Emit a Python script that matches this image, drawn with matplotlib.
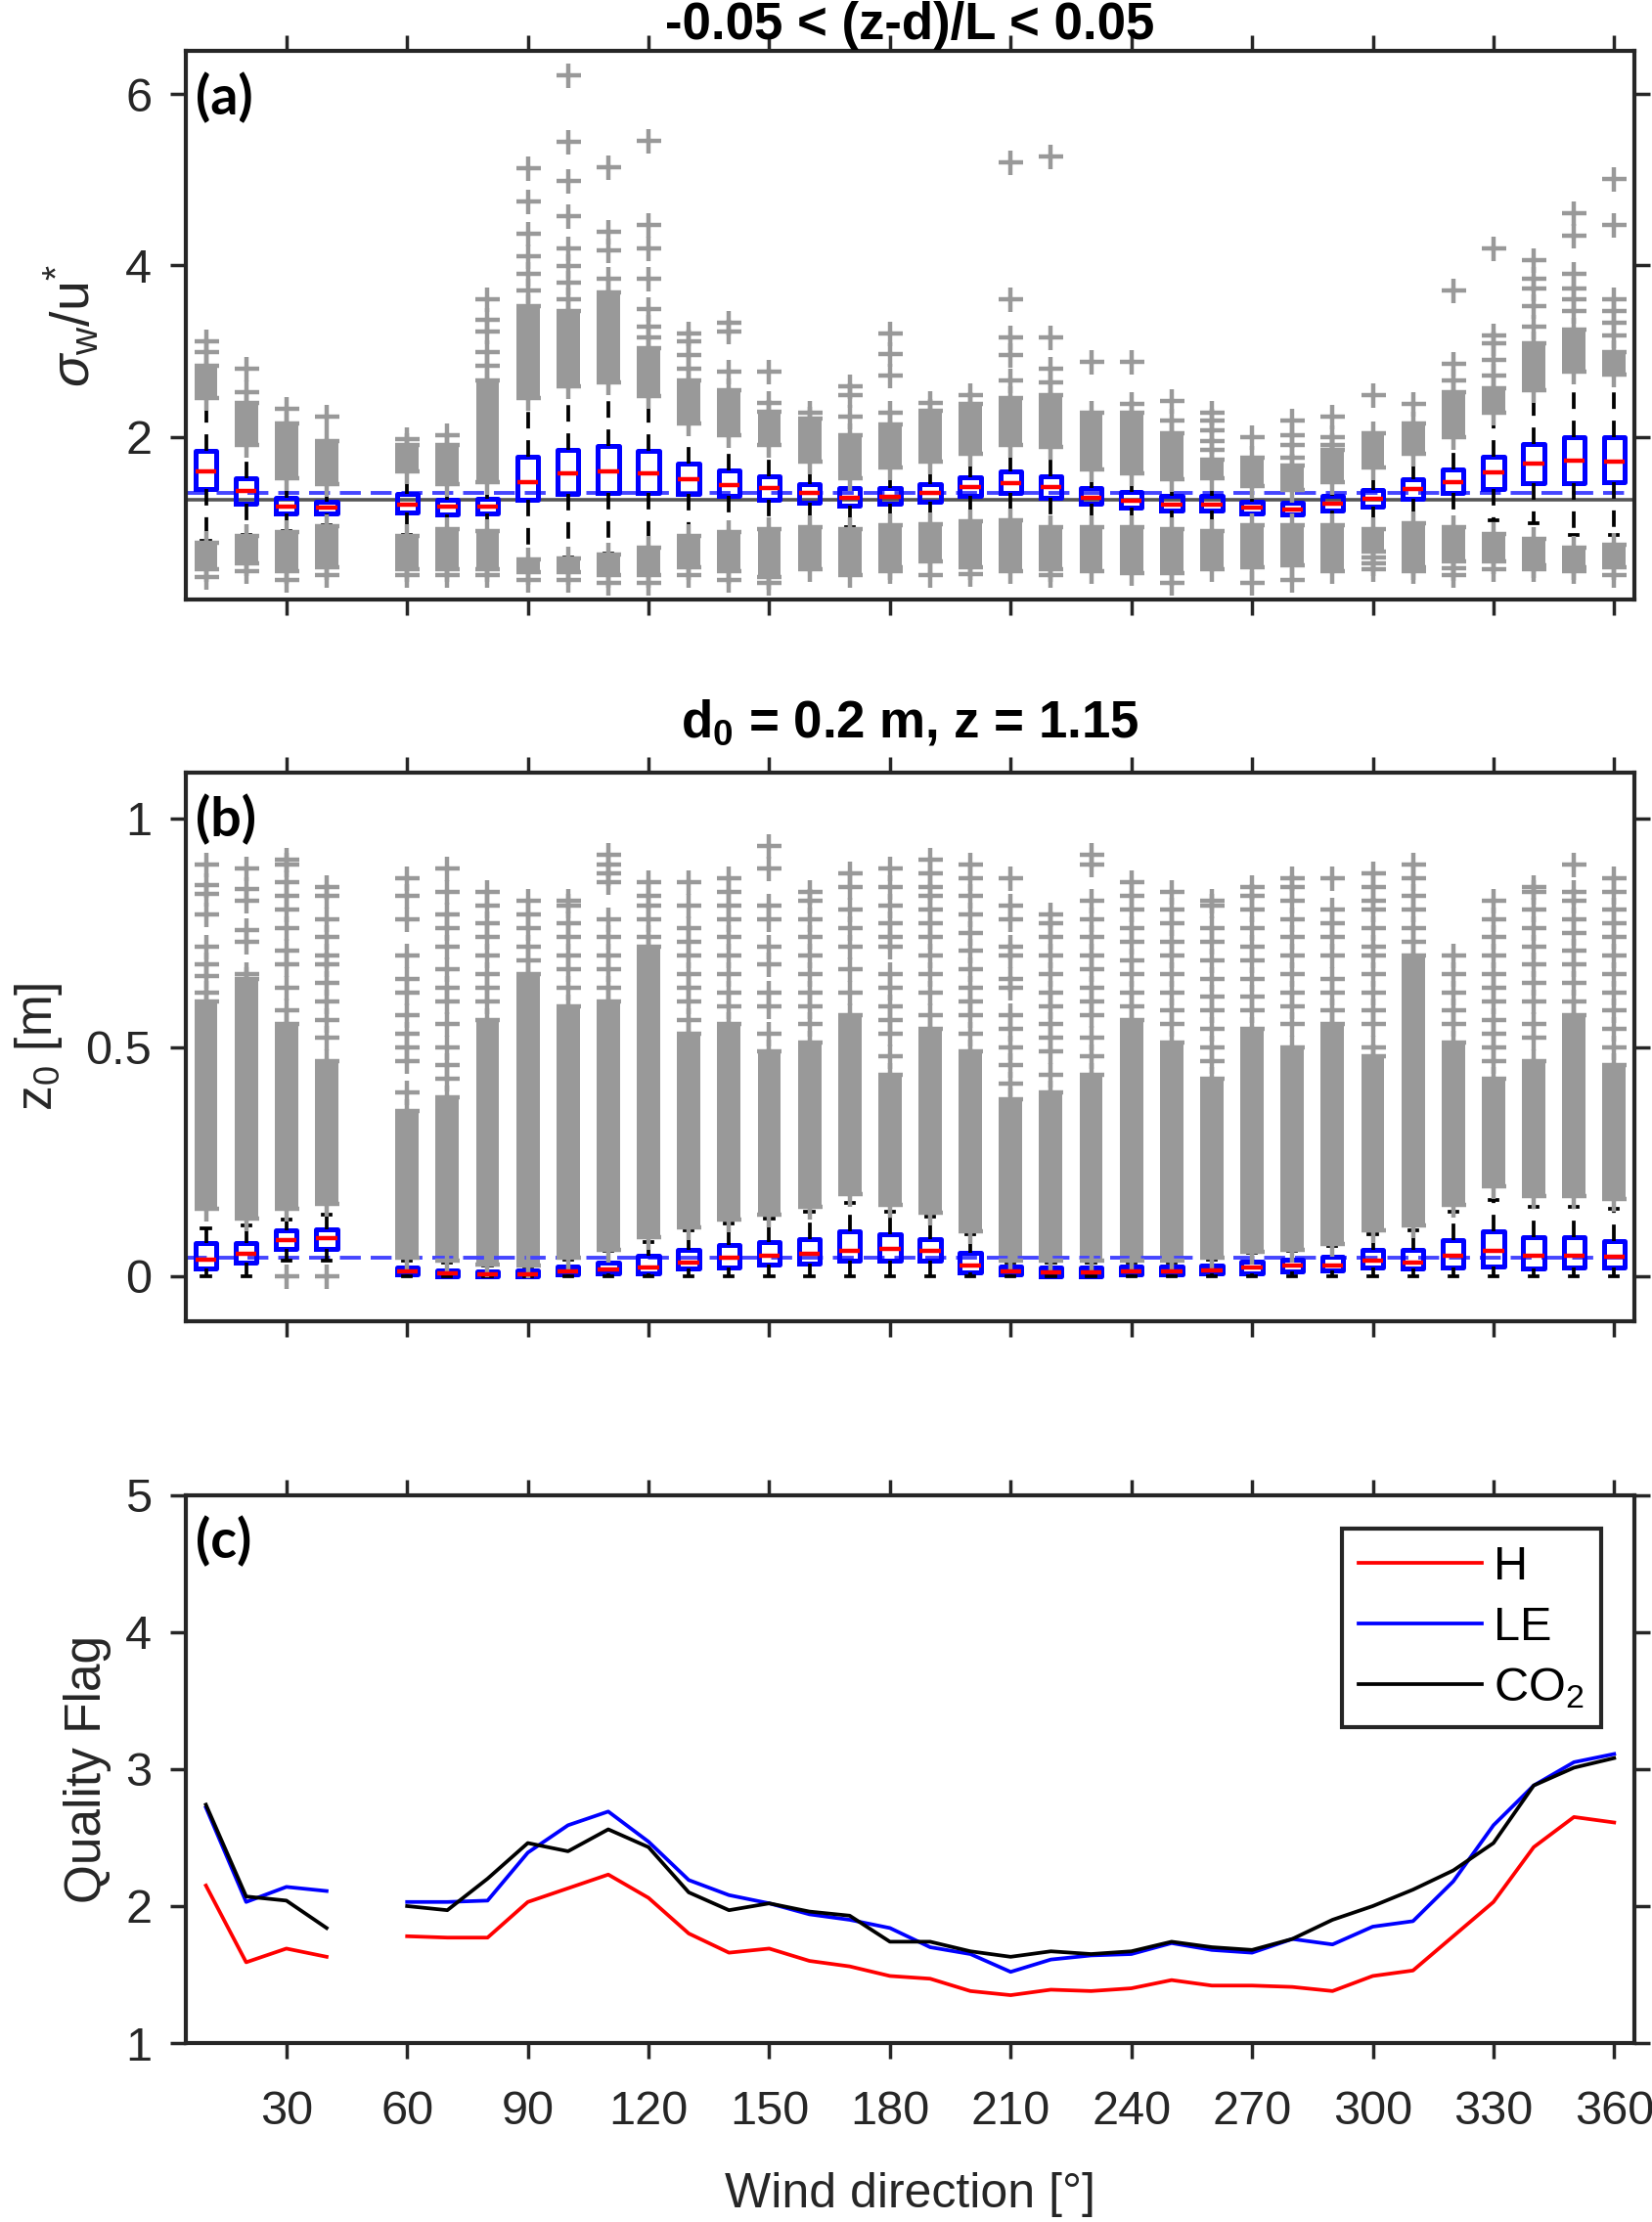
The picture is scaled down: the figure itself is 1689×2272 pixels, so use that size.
import numpy as np
import matplotlib
matplotlib.use("Agg")
import matplotlib.pyplot as plt

plt.rcParams['font.family'] = ['Liberation Sans', 'DejaVu Sans']
plt.rcParams['mathtext.fontset'] = 'custom'
plt.rcParams['mathtext.rm'] = 'Liberation Sans'
plt.rcParams['mathtext.it'] = 'Liberation Sans:italic'
plt.rcParams['mathtext.bf'] = 'Liberation Sans:bold'

# wind direction classes (no data at 50 deg)
wd = [10, 20, 30, 40, 60, 70, 80, 90, 100, 110, 120, 130, 140, 150, 160, 170, 180,
      190, 200, 210, 220, 230, 240, 250, 260, 270, 280, 290, 300, 310, 320, 330,
      340, 350, 360]

# (a) sigma_w/u* box statistics
a_q1 = [1.39, 1.22, 1.10, 1.10, 1.12, 1.09, 1.10, 1.27, 1.33, 1.35, 1.35, 1.33, 1.31,
        1.27, 1.23, 1.20, 1.22, 1.24, 1.31, 1.34, 1.29, 1.22, 1.17, 1.14, 1.14, 1.10,
        1.09, 1.14, 1.19, 1.28, 1.34, 1.39, 1.46, 1.46, 1.47]
a_med = [1.59, 1.37, 1.19, 1.17, 1.21, 1.18, 1.18, 1.47, 1.57, 1.59, 1.57, 1.50, 1.44,
         1.40, 1.34, 1.29, 1.30, 1.34, 1.41, 1.46, 1.41, 1.29, 1.25, 1.21, 1.21, 1.17,
         1.15, 1.22, 1.28, 1.39, 1.47, 1.58, 1.69, 1.72, 1.71]
a_q3 = [1.83, 1.52, 1.29, 1.24, 1.33, 1.26, 1.28, 1.77, 1.85, 1.89, 1.83, 1.69, 1.61,
        1.54, 1.45, 1.40, 1.40, 1.45, 1.53, 1.59, 1.54, 1.40, 1.36, 1.31, 1.31, 1.24,
        1.23, 1.31, 1.38, 1.50, 1.62, 1.77, 1.91, 2.00, 1.99]
a_whi = [2.45, 1.90, 1.52, 1.45, 1.59, 1.45, 1.47, 2.45, 2.59, 2.64, 2.48, 2.16, 2.02,
         1.90, 1.71, 1.52, 1.64, 1.71, 1.80, 1.90, 1.88, 1.62, 1.57, 1.50, 1.52, 1.43,
         1.38, 1.47, 1.64, 1.80, 1.99, 2.28, 2.54, 2.76, 2.73]
a_wlo = [0.78, 0.85, 0.90, 0.97, 0.85, 0.92, 0.90, 0.57, 0.59, 0.64, 0.71, 0.84, 0.89,
         0.92, 0.95, 0.95, 0.97, 0.98, 1.01, 1.02, 0.95, 0.95, 0.95, 0.92, 0.90, 0.97,
         0.97, 0.97, 0.92, 0.99, 0.95, 1.02, 0.99, 0.85, 0.85]
# dense outlier columns (top of upper column, limits of lower column)
a_hi_top = [2.83, 2.40, 2.16, 1.95, 1.90, 1.90, 2.66, 3.52, 3.47, 3.68, 3.04, 2.66, 2.54,
            2.29, 2.21, 2.02, 2.14, 2.30, 2.38, 2.45, 2.49, 2.28, 2.28, 2.04, 1.73, 1.76,
            1.66, 1.85, 2.04, 2.16, 2.52, 2.57, 3.09, 3.25, 2.99]
a_lo_top = [0.76, 0.84, 0.89, 0.96, 0.84, 0.92, 0.90, 0.57, 0.58, 0.62, 0.70, 0.84, 0.89,
            0.92, 0.95, 0.92, 0.97, 0.98, 1.01, 1.02, 0.95, 0.95, 0.95, 0.92, 0.90, 0.97,
            0.97, 0.97, 0.92, 0.99, 0.95, 0.86, 0.81, 0.71, 0.74]
a_lo_bot = [0.45, 0.52, 0.43, 0.48, 0.45, 0.45, 0.45, 0.42, 0.42, 0.38, 0.38, 0.48, 0.43,
            0.36, 0.45, 0.38, 0.48, 0.55, 0.48, 0.43, 0.45, 0.43, 0.41, 0.41, 0.45, 0.48,
            0.50, 0.43, 0.66, 0.48, 0.55, 0.55, 0.50, 0.48, 0.48]
# single outliers
a_hi_fly = [[2.99, 3.11], [2.52, 2.80], [2.33], [2.23], [1.97], [2.02],
            [2.83, 2.99, 3.23, 3.37, 3.61], [3.71, 3.90, 4.11, 4.37, 4.75, 5.13],
            [3.61, 3.80, 3.99, 4.20, 4.58, 4.99, 5.44, 6.22], [3.85, 4.18, 4.39, 5.15],
            [3.16, 3.28, 3.49, 3.85, 4.20, 4.47, 5.46], [2.80, 2.95, 3.11, 3.21],
            [2.76, 3.23, 3.33], [2.40, 2.76], [2.28], [2.24, 2.49, 2.59],
            [2.28, 2.71, 2.97, 3.21], [2.40], [2.49], [2.66, 2.95, 3.16, 3.61, 5.20],
            [2.64, 2.80, 3.16, 5.27], [2.87], [2.38, 2.87], [2.19, 2.42],
            [1.85, 1.95, 2.07, 2.19, 2.28], [2.00], [1.76, 1.90, 2.02, 2.19],
            [1.90, 2.00, 2.23], [2.49], [2.38], [2.66, 2.85, 3.71],
            [2.71, 2.90, 3.09, 3.18, 4.20], [3.28, 3.52, 3.73, 3.85, 4.06],
            [3.47, 3.61, 3.73, 3.90, 4.35, 4.61], [3.18, 3.33, 3.47, 3.61, 4.47, 5.01]]
a_lo_fly = [[0.36], [0.43], [0.33], [0.39], [0.38], [0.38], [0.38], [0.33], [0.33], [0.29],
            [0.29], [0.39], [0.33], [0.29], [], [], [0.43], [0.38], [0.40], [], [0.38], [],
            [], [0.29], [], [0.29], [0.33], [], [0.59, 0.52, 0.45], [0.43], [0.47, 0.38],
            [0.45], [0.45], [0.43], [0.38]]
a_ref_blue = 1.34
a_ref_gray = 1.26

# (b) z0 box statistics
b_q1 = [0.016, 0.030, 0.059, 0.059, 0.003, 0.0, 0.0, 0.0, 0.003, 0.005, 0.005, 0.016,
        0.018, 0.025, 0.027, 0.034, 0.034, 0.034, 0.007, 0.003, 0.0, 0.0, 0.003, 0.003,
        0.005, 0.005, 0.009, 0.012, 0.018, 0.016, 0.018, 0.021, 0.016, 0.018, 0.018]
b_med = [0.036, 0.048, 0.079, 0.082, 0.009, 0.005, 0.003, 0.003, 0.009, 0.014, 0.018,
         0.030, 0.039, 0.043, 0.048, 0.054, 0.059, 0.055, 0.023, 0.009, 0.007, 0.007,
         0.009, 0.009, 0.012, 0.018, 0.022, 0.023, 0.034, 0.030, 0.043, 0.054, 0.045,
         0.043, 0.041]
b_q3 = [0.072, 0.072, 0.099, 0.102, 0.018, 0.012, 0.009, 0.012, 0.021, 0.030, 0.043,
        0.057, 0.068, 0.075, 0.081, 0.097, 0.090, 0.081, 0.050, 0.021, 0.018, 0.018,
        0.021, 0.021, 0.023, 0.032, 0.036, 0.041, 0.057, 0.057, 0.079, 0.097, 0.084,
        0.084, 0.077]
b_whi = [0.104, 0.110, 0.124, 0.133, 0.034, 0.030, 0.022, 0.020, 0.036, 0.055, 0.075,
         0.100, 0.115, 0.125, 0.140, 0.160, 0.140, 0.130, 0.090, 0.030, 0.030, 0.030,
         0.030, 0.030, 0.035, 0.050, 0.055, 0.065, 0.090, 0.100, 0.140, 0.165, 0.151,
         0.151, 0.147]
b_wlo = [0.0, 0.0, 0.034, 0.034, 0.0, 0.0, 0.0, 0.0, 0.0, 0.0, 0.0, 0.0, 0.0, 0.0, 0.0,
         0.0, 0.0, 0.0, 0.0, 0.0, 0.0, 0.0, 0.0, 0.0, 0.0, 0.0, 0.0, 0.0, 0.0, 0.0, 0.0,
         0.0, 0.0, 0.0, 0.0]
b_hi_bot = [0.147, 0.126, 0.147, 0.158, 0.040, 0.034, 0.025, 0.022, 0.039, 0.057, 0.084,
            0.106, 0.124, 0.133, 0.151, 0.178, 0.156, 0.138, 0.097, 0.034, 0.034, 0.034,
            0.034, 0.034, 0.039, 0.052, 0.057, 0.070, 0.100, 0.110, 0.156, 0.196, 0.174,
            0.174, 0.169]
b_hi_top = [0.60, 0.65, 0.55, 0.47, 0.36, 0.39, 0.56, 0.66, 0.59, 0.60, 0.72, 0.53, 0.55,
            0.49, 0.51, 0.57, 0.44, 0.54, 0.49, 0.385, 0.40, 0.44, 0.56, 0.51, 0.43, 0.54,
            0.50, 0.55, 0.48, 0.70, 0.51, 0.43, 0.47, 0.57, 0.46]
b_hi_fly = [[0.62, 0.655, 0.68, 0.72, 0.79, 0.835, 0.855, 0.90],
            [0.66, 0.73, 0.755, 0.82, 0.845, 0.89],
            [0.58, 0.63, 0.68, 0.71, 0.76, 0.80, 0.83, 0.86, 0.90, 0.91],
            [0.52, 0.56, 0.60, 0.64, 0.68, 0.70, 0.74, 0.78, 0.83, 0.85],
            [0.40, 0.47, 0.50, 0.53, 0.57, 0.62, 0.65, 0.70, 0.78, 0.83, 0.87],
            [0.43, 0.46, 0.50, 0.55, 0.60, 0.63, 0.67, 0.72, 0.76, 0.79, 0.84, 0.89],
            [0.60, 0.63, 0.66, 0.70, 0.74, 0.77, 0.81, 0.84],
            [0.69, 0.72, 0.76, 0.79, 0.82],
            [0.63, 0.67, 0.70, 0.74, 0.77, 0.81, 0.82],
            [0.63, 0.67, 0.70, 0.74, 0.78, 0.86, 0.88, 0.90, 0.92],
            [0.74, 0.78, 0.81, 0.83, 0.86],
            [0.56, 0.60, 0.63, 0.66, 0.70, 0.73, 0.76, 0.81, 0.86],
            [0.59, 0.62, 0.66, 0.70, 0.74, 0.78, 0.81, 0.84, 0.87],
            [0.53, 0.59, 0.62, 0.68, 0.72, 0.78, 0.81, 0.89, 0.94],
            [0.55, 0.59, 0.62, 0.66, 0.70, 0.74, 0.78, 0.82, 0.84],
            [0.62, 0.67, 0.72, 0.76, 0.80, 0.85, 0.88],
            [0.48, 0.53, 0.56, 0.59, 0.63, 0.66, 0.72, 0.74, 0.77, 0.81, 0.85, 0.89],
            [0.57, 0.62, 0.66, 0.70, 0.74, 0.77, 0.80, 0.83, 0.85, 0.88, 0.91],
            [0.53, 0.57, 0.60, 0.63, 0.67, 0.71, 0.75, 0.79, 0.83, 0.87, 0.90],
            [0.42, 0.46, 0.50, 0.54, 0.57, 0.63, 0.65, 0.70, 0.72, 0.78, 0.81, 0.87],
            [0.44, 0.49, 0.52, 0.55, 0.59, 0.62, 0.66, 0.70, 0.74, 0.77, 0.79],
            [0.48, 0.52, 0.57, 0.60, 0.63, 0.67, 0.70, 0.74, 0.78, 0.82, 0.90, 0.92],
            [0.59, 0.62, 0.66, 0.69, 0.73, 0.76, 0.80, 0.83, 0.86],
            [0.55, 0.58, 0.62, 0.66, 0.70, 0.73, 0.77, 0.80, 0.84],
            [0.47, 0.50, 0.54, 0.58, 0.61, 0.65, 0.69, 0.73, 0.76, 0.81, 0.82],
            [0.58, 0.61, 0.65, 0.69, 0.72, 0.76, 0.80, 0.83, 0.85],
            [0.55, 0.59, 0.62, 0.66, 0.70, 0.74, 0.78, 0.82, 0.85, 0.87],
            [0.58, 0.62, 0.65, 0.70, 0.74, 0.77, 0.80, 0.87],
            [0.50, 0.55, 0.58, 0.62, 0.66, 0.70, 0.72, 0.76, 0.80, 0.82, 0.85, 0.88],
            [0.73, 0.76, 0.80, 0.83, 0.87, 0.90],
            [0.55, 0.58, 0.62, 0.66, 0.70],
            [0.47, 0.50, 0.53, 0.56, 0.60, 0.63, 0.66, 0.70, 0.74, 0.78, 0.82],
            [0.52, 0.55, 0.60, 0.64, 0.68, 0.72, 0.76, 0.80, 0.84, 0.85],
            [0.60, 0.64, 0.68, 0.71, 0.75, 0.78, 0.82, 0.84, 0.90],
            [0.50, 0.54, 0.58, 0.62, 0.66, 0.70, 0.74, 0.77, 0.80, 0.84, 0.87]]
b_lo_fly = [[], [], [0.0], [0.0]] + [[] for _ in range(31)]
b_ref_blue = 0.039

# (c) mean quality flag per 10 deg sector
wd_c = [10, 20, 30, 40, 50, 60, 70, 80, 90, 100, 110, 120, 130, 140, 150, 160, 170, 180,
        190, 200, 210, 220, 230, 240, 250, 260, 270, 280, 290, 300, 310, 320, 330, 340,
        350, 360]
qf_H = [2.15, 1.59, 1.69, 1.63, np.nan, 1.78, 1.77, 1.77, 2.03, 2.13, 2.23, 2.06, 1.80,
        1.66, 1.69, 1.60, 1.56, 1.49, 1.47, 1.38, 1.35, 1.39, 1.38, 1.40, 1.46, 1.42,
        1.42, 1.41, 1.38, 1.49, 1.53, 1.78, 2.03, 2.43, 2.65, 2.61]
qf_LE = [2.72, 2.03, 2.14, 2.11, np.nan, 2.03, 2.03, 2.04, 2.39, 2.59, 2.69, 2.47, 2.19,
         2.08, 2.02, 1.94, 1.90, 1.84, 1.70, 1.65, 1.52, 1.61, 1.64, 1.65, 1.73, 1.68,
         1.66, 1.76, 1.72, 1.85, 1.89, 2.18, 2.59, 2.88, 3.05, 3.11]
qf_CO2 = [2.74, 2.07, 2.04, 1.84, np.nan, 2.00, 1.97, 2.20, 2.46, 2.40, 2.56, 2.43, 2.10,
          1.97, 2.02, 1.96, 1.93, 1.74, 1.74, 1.67, 1.63, 1.67, 1.65, 1.67, 1.74, 1.70,
          1.68, 1.76, 1.90, 2.00, 2.12, 2.26, 2.46, 2.88, 3.01, 3.08]

GRAY = '#999999'
AXC = '#262626'


def draw_boxes(ax, q1, med, q3, wlo, whi, hi_bot, hi_top, hi_fly, lo_fly,
               lo_top=None, lo_bot=None):
    # dense stacks of outliers drawn as solid columns
    ax.bar(wd, np.subtract(hi_top, hi_bot), bottom=hi_bot, width=5.8,
           color=GRAY, zorder=1)
    if lo_top is not None:
        ax.bar(wd, np.subtract(lo_top, lo_bot), bottom=lo_bot, width=5.8,
               color=GRAY, zorder=1)
    stats = []
    for i in range(len(wd)):
        fl = [hi_bot[i], hi_top[i]] + list(hi_fly[i]) + list(lo_fly[i])
        if lo_top is not None:
            fl += [lo_top[i], lo_bot[i]]
        stats.append(dict(med=med[i], q1=q1[i], q3=q3[i], whislo=wlo[i],
                          whishi=whi[i], fliers=fl))
    ax.bxp(stats, positions=wd, widths=5.2, capwidths=2.0, manage_ticks=False,
           boxprops=dict(color='#0000ff', lw=3.6),
           medianprops=dict(color='#ff0000', lw=3.2),
           whiskerprops=dict(color='k', lw=2.7, linestyle=(0, (4.5, 3.2))),
           capprops=dict(color='k', lw=2.7),
           flierprops=dict(marker='+', markersize=18, markeredgecolor=GRAY,
                           markeredgewidth=3.2, linestyle='none'),
           zorder=3)


def style_axis(ax, show_xlabels=False):
    for s in ax.spines.values():
        s.set_color(AXC)
        s.set_linewidth(3.0)
    ax.set_xlim(5, 365)
    ax.set_xticks(range(30, 361, 30))
    ax.tick_params(which='both', direction='out', length=11.5, width=2.5,
                   top=True, right=True, colors=AXC, labelsize=35)
    ax.tick_params(axis='x', pad=23, labelbottom=show_xlabels)
    ax.tick_params(axis='y', pad=13.5)


fig = plt.figure(figsize=(16.9, 22.72), dpi=100)
L, W = 0.1124, 0.8763
ax_a = fig.add_axes([L, 0.7302, W, 0.2467])
ax_b = fig.add_axes([L, 0.4052, W, 0.2471])
ax_c = fig.add_axes([L, 0.0805, W, 0.2467])

# panel a
draw_boxes(ax_a, a_q1, a_med, a_q3, a_wlo, a_whi, a_whi, a_hi_top, a_hi_fly,
           a_lo_fly, a_lo_top, a_lo_bot)
ax_a.axhline(a_ref_gray, color='#555555', lw=2.6, zorder=2)
ax_a.axhline(a_ref_blue, color='#4545ff', lw=2.8, ls=(0, (5.5, 2.6)), zorder=2)
style_axis(ax_a)
ax_a.set_ylim(0.1, 6.5)
ax_a.set_yticks([2, 4, 6])
ax_a.set_ylabel(r'$\sigma_{\mathrm{w}}/\mathrm{u}^{*}$', fontsize=40, color=AXC)
ax_a.yaxis.set_label_coords(-0.058, 0.5)

# panel b
draw_boxes(ax_b, b_q1, b_med, b_q3, b_wlo, b_whi, b_hi_bot, b_hi_top, b_hi_fly,
           b_lo_fly)
ax_b.axhline(b_ref_blue, color='#4545ff', lw=2.8, ls=(0, (5.5, 2.6)), zorder=2)
style_axis(ax_b)
ax_b.set_ylim(-0.1, 1.1)
ax_b.set_yticks([0, 0.5, 1])
ax_b.set_yticklabels(['0', '0.5', '1'])
ax_b.set_ylabel(r'z$_0$ [m]', fontsize=37, color=AXC)
ax_b.yaxis.set_label_coords(-0.084, 0.5)

# panel c
ax_c.plot(wd_c, qf_H, color='#ff0000', lw=2.7, label='H')
ax_c.plot(wd_c, qf_LE, color='#0000ff', lw=2.7, label='LE')
ax_c.plot(wd_c, qf_CO2, color='k', lw=2.7, label=r'CO$_2$')
style_axis(ax_c, show_xlabels=True)
ax_c.set_ylim(1, 5)
ax_c.set_yticks([1, 2, 3, 4, 5])
ax_c.set_ylabel('Quality Flag', fontsize=37, color=AXC)
ax_c.yaxis.set_label_coords(-0.051, 0.5)
ax_c.set_xlabel('Wind direction [°]', fontsize=36, color=AXC)
ax_c.xaxis.set_label_coords(0.5, -0.235)
leg = ax_c.legend(loc='upper right', fontsize=35, frameon=True, fancybox=False,
                  edgecolor=AXC, framealpha=1, borderaxespad=0.7, handlelength=2.6,
                  handletextpad=0.25, labelspacing=0.35, borderpad=0.35)
leg.get_frame().set_linewidth(3.0)

# panel letters
for ax, lab in [(ax_a, '(a)'), (ax_b, '(b)'), (ax_c, '(c)')]:
    ax.text(0.007, 0.962, lab, transform=ax.transAxes, ha='left', va='top',
            fontsize=40, fontweight='bold', family=['Lato', 'DejaVu Sans'], zorder=10)

# titles
tfam = ['Liberation Sans Narrow', 'Liberation Sans']
fig.text(0.5506, 1 - 40 / 2272, '-0.05 < (z-d)/L < 0.05', ha='center', va='baseline',
         fontsize=38, fontweight='bold', family=tfam)
fig.text(0.5506, 1 - 753 / 2272, r'd$_\mathbf{0}$ = 0.2 m, z = 1.15', ha='center',
         va='baseline', fontsize=38, fontweight='bold', family=tfam)

fig.savefig('out.png', dpi=100, facecolor='white')
